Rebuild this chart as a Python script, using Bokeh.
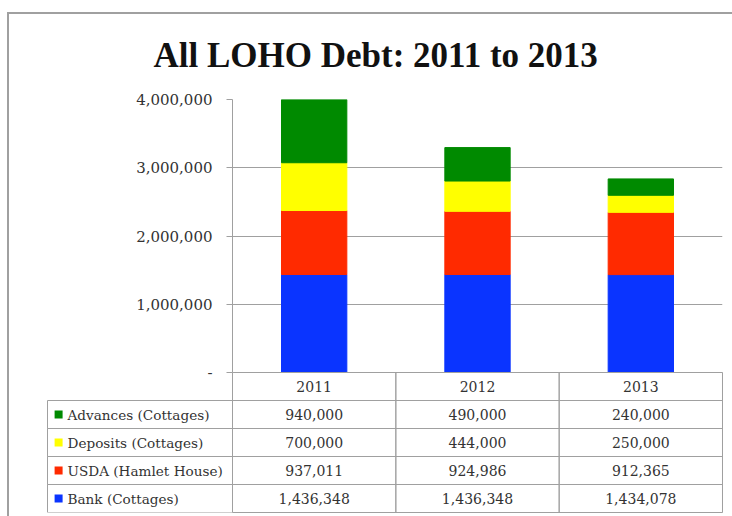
from bokeh.plotting import figure
from bokeh.models import FactorRange, Range1d, FixedTicker, ColumnDataSource
from bokeh.layouts import column, row
from bokeh.embed import file_html
from bokeh.resources import INLINE
from bokeh.core.properties import value

# ---------------- data ----------------
years = ["2011", "2012", "2013"]
series_names = ["Bank (Cottages)", "USDA (Hamlet House)", "Deposits (Cottages)", "Advances (Cottages)"]
bank = [1436348, 1436348, 1434078]
usda = [937011, 924986, 912365]
deposits = [700000, 444000, 250000]
advances = [940000, 490000, 240000]
series_colors = ["#0a34ff", "#ff2a00", "#ffff00", "#008a00"]
y_ticks = [0, 1000000, 2000000, 3000000, 4000000]
y_tick_labels = ["-", "1,000,000", "2,000,000", "3,000,000", "4,000,000"]
title_text = "All LOHO Debt: 2011 to 2013"

series_values = [bank, usda, deposits, advances]
keys = ["bank", "usda", "deposits", "advances"]
HEADER = "header"

GRID = "#a0a0a0"
TXT = "#333333"
SERIF = "DejaVu Serif"

# ---------------- chart ----------------
src = ColumnDataSource(dict(years=years, **{k: v for k, v in zip(keys, series_values)}))
xr = FactorRange(factors=years)

p = figure(x_range=xr, y_range=Range1d(0, 4000000), width=732, height=384,
           output_backend="svg", toolbar_location=None, x_axis_location=None,
           min_border_left=232, min_border_right=10, min_border_top=99, min_border_bottom=12)
p.border_fill_color = None
p.outline_line_color = None
p.vbar_stack(keys, x="years", width=0.4, color=series_colors, source=src)

p.yaxis.ticker = FixedTicker(ticks=y_ticks)
p.yaxis.major_label_overrides = {t: l for t, l in zip(y_ticks, y_tick_labels)}
p.yaxis.axis_line_color = GRID
p.yaxis.major_tick_line_color = GRID
p.yaxis.major_tick_out = 6
p.yaxis.major_tick_in = 0
p.yaxis.minor_tick_line_color = None
p.yaxis.major_label_standoff = 14
p.yaxis.major_label_text_font = SERIF
p.yaxis.major_label_text_font_size = "15px"
p.yaxis.major_label_text_color = TXT
p.ygrid.grid_line_color = GRID
p.xgrid.visible = False

p.title.text = title_text
p.title.text_font = "Liberation Serif"
p.title.text_font_size = "35px"
p.title.text_font_style = "bold"
p.title.text_color = "#111111"
p.title.align = "left"
p.title.offset = -79
p.title.standoff = 50

# ---------------- table ----------------
rows_bottom_up = series_names + [HEADER]
yr = FactorRange(factors=rows_bottom_up)
tx, ty, tt = [], [], []
for yv in years:
    tx.append(yv); ty.append(HEADER); tt.append(yv)
for name, vals in zip(series_names, series_values):
    for yv, v in zip(years, vals):
        tx.append(yv); ty.append(name); tt.append(f"{v:,}")
tsrc = ColumnDataSource(dict(x=tx, y=ty, text=tt))

t = figure(x_range=xr, y_range=yr, width=500, height=144,
           output_backend="svg", toolbar_location=None, x_axis_location=None, y_axis_location=None,
           min_border_left=0, min_border_right=10, min_border_top=0, min_border_bottom=4)
t.border_fill_color = None
t.outline_line_color = GRID
t.grid.visible = False
t.rect(x="x", y="y", width=1, height=1, fill_color=None, line_color=GRID, source=tsrc)
t.text(x="x", y="y", text="text", text_align="center", text_baseline="middle",
       text_font=value(SERIF), text_font_size="14px", text_color=TXT, source=tsrc)

# ---------------- legend column ----------------
lsrc = ColumnDataSource(dict(y=series_names, name=series_names, color=series_colors))
lf = figure(x_range=Range1d(-4 / 185, 1), y_range=yr, width=232, height=144,
            output_backend="svg", toolbar_location=None, x_axis_location=None, y_axis_location=None,
            min_border_left=43, min_border_right=0, min_border_top=0, min_border_bottom=4)
lf.border_fill_color = None
lf.background_fill_color = None
lf.outline_line_color = None
lf.grid.visible = False
lf.rect(x=0.5, y="y", width=1, height=1, fill_color=None, line_color=GRID, source=lsrc)
lf.scatter(x=0.06, y="y", marker="square", size=8, fill_color="color", line_color=None, source=lsrc)
lf.text(x=0, y="name", text="name", x_offset=20, text_align="left", text_baseline="middle",
        text_font=value(SERIF), text_font_size="13.6px", text_color=TXT, source=lsrc)

layout = column(p, row(lf, t, margin=(-12, 0, 0, 0)), styles={
    "background": "linear-gradient(#a0a0a0,#a0a0a0) 7px 12px / 2px 100% no-repeat, "
                  "linear-gradient(#a0a0a0,#a0a0a0) 7px 12px / 100% 2px no-repeat"
})

open("out.html", "w").write(file_html(layout, INLINE))
